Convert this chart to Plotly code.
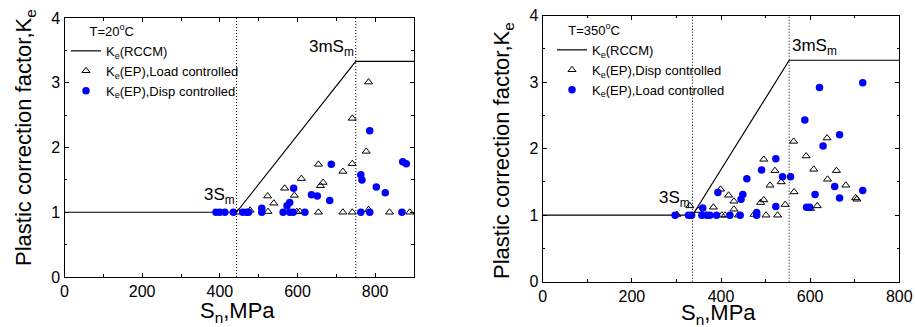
import plotly.graph_objects as go

# ---------------- data ----------------
# Left panel (T=20 C)
L_rccm_x = [0, 443, 750, 900]
L_rccm_y = [1.0, 1.0, 3.33, 3.33]
L_3sm = 443
L_3msm = 750

L_load_x = [783, 741, 777, 741, 717, 654, 666, 659, 610, 567, 592, 523, 539,
            448, 478, 524, 598, 606, 654, 717, 741, 783, 837, 889]
L_load_y = [3.01, 2.45, 1.94, 1.75, 1.63, 1.74, 1.46, 1.41, 1.52, 1.37, 1.26, 1.25, 1.14,
            1.0, 1.03, 1.01, 1.01, 1.01, 1.0, 1.0, 1.0, 1.04, 1.0, 1.0]

L_disp_x = [786, 687, 871, 880, 763, 766, 803, 826, 590, 636, 651, 683, 580, 573,
            508, 508, 563, 580, 589, 619, 763, 786, 869,
            390, 400, 413, 435, 459, 469, 474]
L_disp_y = [2.26, 1.74, 1.78, 1.75, 1.58, 1.50, 1.39, 1.30, 1.37, 1.27, 1.25, 1.18, 1.15, 1.10,
            1.06, 1.0, 1.0, 1.0, 1.0, 1.0, 1.0, 1.0, 1.0,
            1.0, 1.0, 1.0, 1.0, 1.0, 1.0, 1.0]

# Right panel (T=350 C)
R_rccm_x = [0, 336, 553, 800]
R_rccm_y = [1.0, 1.0, 3.33, 3.33]
R_3sm = 336
R_3msm = 553

R_disp_x = [563, 638, 591, 496, 608, 521, 659, 639, 535, 510, 680, 564, 702, 705,
            496, 489, 544, 616, 601, 399, 417, 429, 429, 383, 330, 349, 301,
            402, 409, 439, 474, 501, 527, 367]
R_disp_y = [2.11, 2.16, 1.89, 1.84, 1.69, 1.67, 1.67, 1.54, 1.50, 1.45, 1.45, 1.35, 1.26, 1.24,
            1.23, 1.19, 1.16, 1.14, 1.10, 1.39, 1.30, 1.21, 1.09, 1.12, 1.14, 1.07, 1.01,
            1.0, 1.0, 1.0, 1.01, 1.0, 1.0, 1.0]

R_load_x = [718, 621, 588, 666, 629, 523, 491, 458, 538, 556, 655, 718, 393, 449,
            611, 666, 445, 523, 592, 599, 359, 480,
            297, 327, 334, 357, 368, 375, 390, 420, 443, 480]
R_load_y = [2.99, 2.92, 2.43, 2.21, 2.04, 1.85, 1.68, 1.55, 1.58, 1.58, 1.43, 1.37, 1.34, 1.31,
            1.31, 1.26, 1.24, 1.13, 1.12, 1.12, 1.11, 1.04,
            1.0, 1.0, 1.0, 1.0, 1.0, 1.0, 1.0, 1.0, 1.0, 1.0]

FONT = "Arial, Liberation Sans, sans-serif"
W, H = 915, 327

fig = go.Figure()

line_style = dict(color="black", width=1.2)
tri_style = dict(symbol="triangle-up-open", size=7, color="black", line=dict(width=1))
dot_style = dict(symbol="circle", size=7.5, color="#0000ff", line=dict(width=0))

# Left traces
fig.add_trace(go.Scatter(x=L_rccm_x, y=L_rccm_y, mode="lines", line=line_style,
                         name="K<sub>e</sub>(RCCM)", xaxis="x", yaxis="y", legend="legend"))
fig.add_trace(go.Scatter(x=L_load_x, y=L_load_y, mode="markers", marker=tri_style,
                         name="K<sub>e</sub>(EP),Load controlled", xaxis="x", yaxis="y", legend="legend"))
fig.add_trace(go.Scatter(x=L_disp_x, y=L_disp_y, mode="markers", marker=dot_style,
                         name="K<sub>e</sub>(EP),Disp controlled", xaxis="x", yaxis="y", legend="legend"))

# Right traces
fig.add_trace(go.Scatter(x=R_rccm_x, y=R_rccm_y, mode="lines", line=line_style,
                         name="K<sub>e</sub>(RCCM)", xaxis="x2", yaxis="y2", legend="legend2"))
fig.add_trace(go.Scatter(x=R_disp_x, y=R_disp_y, mode="markers", marker=tri_style,
                         name="K<sub>e</sub>(EP),Disp controlled", xaxis="x2", yaxis="y2", legend="legend2"))
fig.add_trace(go.Scatter(x=R_load_x, y=R_load_y, mode="markers", marker=dot_style,
                         name="K<sub>e</sub>(EP),Load controlled", xaxis="x2", yaxis="y2", legend="legend2"))

def xdom(l, r):
    return [l / W, r / W]

def ydom(t, b):
    return [(H - b) / H, (H - t) / H]

axis_common = dict(showline=True, linecolor="black", linewidth=1.2, mirror="ticks",
                   ticks="inside", ticklen=4, tickwidth=1, tickcolor="black",
                   showgrid=False, zeroline=False,
                   tickfont=dict(family=FONT, size=16, color="black"),
                   automargin=False)

fig.update_layout(
    width=W, height=H,
    margin=dict(l=0, r=0, t=0, b=0),
    paper_bgcolor="white", plot_bgcolor="white",
    font=dict(family=FONT, color="black"),
    xaxis=dict(domain=xdom(64.5, 414), range=[0, 900], dtick=200, anchor="y",
               minor=dict(dtick=100, ticks="inside", ticklen=2.5, tickcolor="black"),
               **axis_common),
    yaxis=dict(domain=ydom(18, 277), range=[0, 4], dtick=1, anchor="x",
               minor=dict(dtick=0.5, ticks="inside", ticklen=2.5, tickcolor="black"),
               **axis_common),
    xaxis2=dict(domain=xdom(542.7, 899.3), range=[0, 800], dtick=200, anchor="y2",
                minor=dict(dtick=100, ticks="inside", ticklen=2.5, tickcolor="black"),
                **axis_common),
    yaxis2=dict(domain=ydom(15.7, 281.7), range=[0, 4], dtick=1, anchor="x2",
                minor=dict(dtick=0.5, ticks="inside", ticklen=2.5, tickcolor="black"),
                **axis_common),
    legend=dict(x=66 / W, y=1 - 19 / H, xanchor="left", yanchor="top",
                bgcolor="rgba(0,0,0,0)", font=dict(family=FONT, size=13),
                title=dict(text="      T=20<sup>o</sup>C", font=dict(family=FONT, size=13)),
                tracegroupgap=0, itemwidth=30),
    legend2=dict(x=552 / W, y=1 - 18 / H, xanchor="left", yanchor="top",
                 bgcolor="rgba(0,0,0,0)", font=dict(family=FONT, size=13),
                 title=dict(text="    T=350<sup>o</sup>C", font=dict(family=FONT, size=13)),
                 tracegroupgap=0, itemwidth=30),
    showlegend=True,
)

# vertical dotted lines
for xv, xr, yr in [(L_3sm, "x", "y domain"), (L_3msm, "x", "y domain"),
                   (R_3sm, "x2", "y2 domain"), (R_3msm, "x2", "y2 domain")]:
    fig.add_shape(type="line", x0=xv, x1=xv, y0=0, y1=1, xref=xr, yref=yr,
                  line=dict(color="black", width=1, dash="1px,2px"))

ann = []
# 3Sm / 3mSm labels
ann.append(dict(x=L_3sm, y=1.05, xref="x", yref="y", text="3S<sub>m</sub>",
                xanchor="right", yanchor="bottom", showarrow=False, font=dict(size=17)))
ann.append(dict(x=L_3msm, y=3.33, xref="x", yref="y", text="3mS<sub>m</sub>",
                xanchor="right", yanchor="bottom", showarrow=False, font=dict(size=17)))
ann.append(dict(x=R_3sm, y=1.05, xref="x2", yref="y2", text="3S<sub>m</sub>",
                xanchor="right", yanchor="bottom", showarrow=False, font=dict(size=17)))
ann.append(dict(x=R_3msm, y=3.33, xref="x2", yref="y2", text="3mS<sub>m</sub>",
                xanchor="left", yanchor="bottom", showarrow=False, font=dict(size=17),
                xshift=1))
# axis titles
ann.append(dict(x=25 / W, y=1 - 138 / H, xref="paper", yref="paper",
                text="Plastic correction factor,K<sub>e</sub>", textangle=-90,
                showarrow=False, font=dict(size=22), xanchor="center", yanchor="middle"))
ann.append(dict(x=503 / W, y=1 - 151 / H, xref="paper", yref="paper",
                text="Plastic correction factor,K<sub>e</sub>", textangle=-90,
                showarrow=False, font=dict(size=22), xanchor="center", yanchor="middle"))
ann.append(dict(x=237 / W, y=1 - 312 / H, xref="paper", yref="paper",
                text="S<sub>n</sub>,MPa", showarrow=False, font=dict(size=22),
                xanchor="center", yanchor="middle"))
ann.append(dict(x=718 / W, y=1 - 314 / H, xref="paper", yref="paper",
                text="S<sub>n</sub>,MPa", showarrow=False, font=dict(size=22),
                xanchor="center", yanchor="middle"))
fig.update_layout(annotations=ann)

fig.write_html("out.html")
